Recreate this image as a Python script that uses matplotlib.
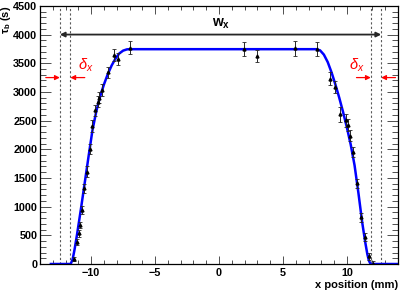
import matplotlib
matplotlib.use("Agg")
import matplotlib.pyplot as plt
from matplotlib.ticker import MultipleLocator

plt.rcParams['font.family'] = ['Liberation Sans', 'DejaVu Sans']
plt.rcParams['mathtext.fontset'] = 'custom'
plt.rcParams['mathtext.rm'] = 'Liberation Sans'
plt.rcParams['mathtext.bf'] = 'Liberation Sans:bold'
plt.rcParams['mathtext.it'] = 'Liberation Sans:italic'

########################## measured points ##########################
x_pos = [-11.32, -11.14, -10.98, -10.87, -10.74, -10.53, -10.35, -10.12, -9.93,
         -9.72, -9.50, -9.38, -9.17, -8.70, -8.25, -7.92, -6.94,
         1.97, 2.96, 5.94, 7.68,
         8.67, 9.07, 9.47, 9.90, 10.08, 10.26, 10.48, 10.77, 11.10, 11.40, 11.69, 12.03]
tau_b = [90, 390, 535, 680, 940, 1320, 1610, 2010, 2410,
         2680, 2830, 2900, 3030, 3340, 3640, 3570, 3770,
         3745, 3628, 3762, 3745,
         3232, 3088, 2613, 2506, 2425, 2240, 1950, 1410, 815, 475, 135, 0]
tau_err = [40, 50, 60, 60, 70, 80, 90, 90, 100,
           100, 100, 100, 100, 100, 100, 100, 110,
           120, 100, 130, 120,
           110, 100, 130, 110, 100, 100, 90, 80, 80, 70, 60, 50]

########################## fit curve ##############
fit_x = [-13.15, -11.6, -11.45, -11.3, -11.1, -10.8, -10.5, -10.2, -9.9, -9.6,
         -9.3, -9.0, -8.7, -8.4, -8.1, -7.8, -7.5, -7.2, -7.0,
         7.6, 7.9, 8.2, 8.5, 8.8, 9.1, 9.4, 9.7, 10.0, 10.3, 10.6, 10.9,
         11.2, 11.45, 11.6, 11.72, 11.85, 14.0]
fit_y = [0, 0, 80, 250, 520, 960, 1420, 1880, 2330, 2660,
         2920, 3130, 3310, 3460, 3580, 3670, 3720, 3742, 3745,
         3745, 3725, 3650, 3520, 3340, 3130, 2900, 2650, 2380, 2080, 1720, 1240,
         720, 360, 170, 60, 0, 0]

# edges / widths
edge_lines = [-12.45, -11.63, 11.87, 12.68]
w_y = 4000
delta_y = 3250

fig = plt.figure(figsize=(4.07, 2.94), dpi=100)
ax = fig.add_axes([0.0983, 0.102, 0.8797, 0.878])

for xe in edge_lines:
    ax.axvline(xe, color='0.35', linestyle=(0, (2, 2)), linewidth=0.8, zorder=1)

ax.plot(fit_x, fit_y, color='#0000ff', linewidth=1.8, zorder=2)

ax.errorbar(x_pos, tau_b, yerr=tau_err, fmt='^', color='black', markersize=2.1,
            elinewidth=0.7, ecolor='0.15', capsize=1.5, capthick=0.6, zorder=3)

# w_x arrow
ax.annotate('', xy=(edge_lines[0], w_y), xytext=(edge_lines[3], w_y),
            arrowprops=dict(arrowstyle='<|-|>', color='0.15', lw=1.3,
                            mutation_scale=7, shrinkA=0, shrinkB=0))
ax.text(0.2, w_y + 70, r'$\mathbf{w_x}$', ha='center', va='bottom', fontsize=10)

# delta_x arrows (red)
red_kw = dict(arrowstyle='-|>', color='#ff0000', lw=0.9, mutation_scale=7,
              shrinkA=0, shrinkB=0)
ax.annotate('', xy=(edge_lines[0], delta_y), xytext=(-13.55, delta_y), arrowprops=red_kw)
ax.annotate('', xy=(edge_lines[1], delta_y), xytext=(-10.5, delta_y), arrowprops=red_kw)
ax.annotate('', xy=(edge_lines[2], delta_y), xytext=(10.75, delta_y), arrowprops=red_kw)
ax.annotate('', xy=(edge_lines[3], delta_y), xytext=(13.8, delta_y), arrowprops=red_kw)
ax.text(-10.4, delta_y + 70, r'$\delta_{x}$', color='#ff0000', ha='center', va='bottom', fontsize=10.5)
ax.text(10.75, delta_y + 70, r'$\delta_{x}$', color='#ff0000', ha='center', va='bottom', fontsize=10.5)

ax.set_xlim(-14, 14)
ax.set_ylim(0, 4500)
ax.xaxis.set_major_locator(MultipleLocator(5))
ax.xaxis.set_minor_locator(MultipleLocator(1))
ax.yaxis.set_major_locator(MultipleLocator(500))
ax.yaxis.set_minor_locator(MultipleLocator(100))

ax.tick_params(axis='both', which='both', direction='in', top=True, right=True,
               width=0.6, color='0.2', labelsize=7.8)
ax.tick_params(axis='y', which='major', length=8, pad=2)
ax.tick_params(axis='y', which='minor', length=4)
ax.tick_params(axis='x', which='major', length=5.5, pad=3)
ax.tick_params(axis='x', which='minor', length=3)
for lab in ax.get_xticklabels() + ax.get_yticklabels():
    lab.set_fontweight('bold')
for s in ax.spines.values():
    s.set_linewidth(0.9)

fig.text(398 / 407, 1 - 285 / 294, 'x position (mm)', ha='right', va='center',
         fontsize=8, fontweight='bold')
fig.text(6 / 407, 1 - 6 / 294, r'$\mathbf{\tau_b}$ (s)', ha='center', va='top',
         rotation=90, fontsize=8, fontweight='bold')

plt.savefig('out.png', dpi=100)
